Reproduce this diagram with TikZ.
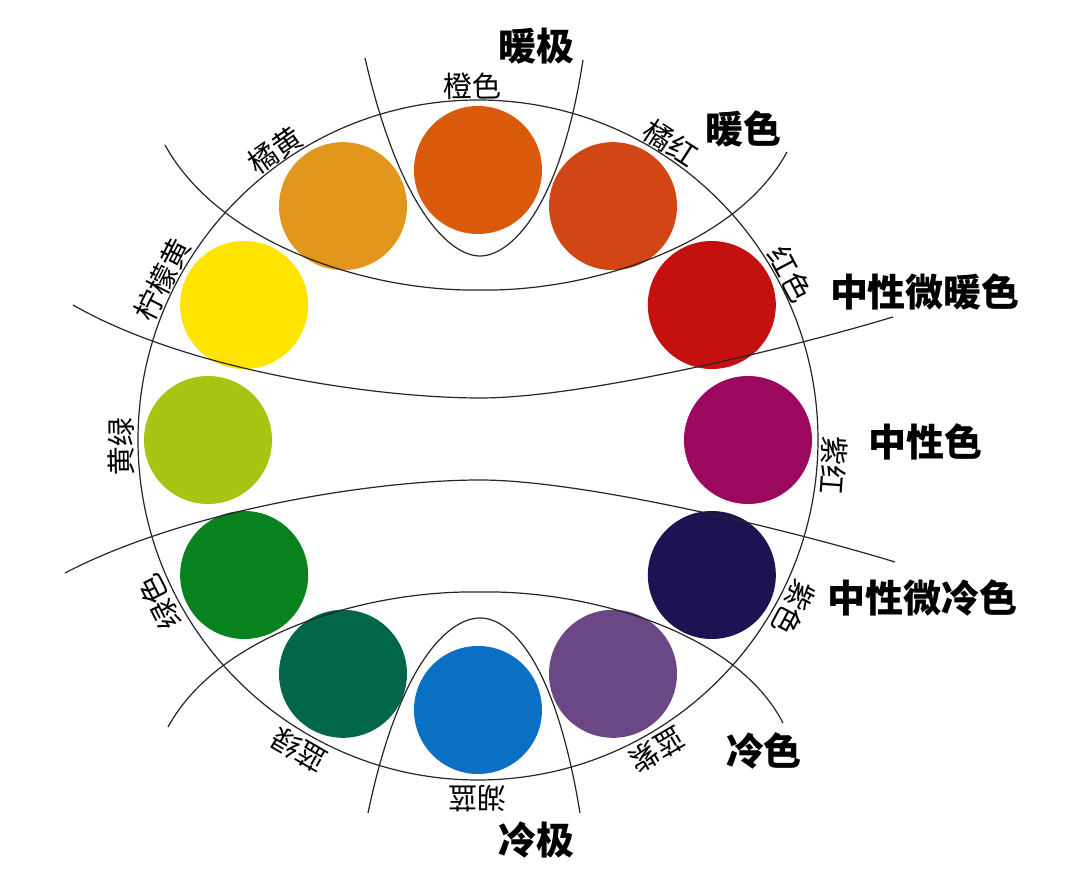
\documentclass[tikz,border=0pt]{standalone}
\usepackage{fontspec}
\setmainfont{Noto Sans CJK SC}
\definecolor{cOrange}{RGB}{217,90,10}
\definecolor{cOrRed}{RGB}{210,70,22}
\definecolor{cRed}{RGB}{196,16,14}
\definecolor{cMagenta}{RGB}{155,10,95}
\definecolor{cNavy}{RGB}{27,19,82}
\definecolor{cViolet}{RGB}{108,71,134}
\definecolor{cBlue}{RGB}{10,112,195}
\definecolor{cTeal}{RGB}{2,102,75}
\definecolor{cGreen}{RGB}{8,130,30}
\definecolor{cYGreen}{RGB}{167,196,18}
\definecolor{cLemon}{RGB}{255,228,0}
\definecolor{cOrYellow}{RGB}{227,150,28}
\tikzset{
  ln/.style={line width=1.2pt, black!85},
  dot/.style={circle, minimum size=128pt, inner sep=0pt, draw=none},
  lbl/.style={font=\fontsize{29}{29}\selectfont, inner sep=0pt},
  big/.style={font=\bfseries\fontsize{38}{38}\selectfont, inner sep=0pt}
}
\begin{document}
\begin{tikzpicture}[x=1pt,y=1pt]
\useasboundingbox[fill=white] (-478,-442) rectangle (602,440);
% outer circle
\node[circle, draw, ln, minimum size=680pt, inner sep=0pt] (outer) at (0,0) {};
% colour dots
\node[dot, fill=cOrange]   (d90)  at (90:270) {};
\node[dot, fill=cOrRed]    (d60)  at (60:270) {};
\node[dot, fill=cRed]      (d30)  at (30:270) {};
\node[dot, fill=cMagenta]  (d0)   at (0:270) {};
\node[dot, fill=cNavy]     (dm30) at (-30:270) {};
\node[dot, fill=cViolet]   (dm60) at (-60:270) {};
\node[dot, fill=cBlue]     (dm90) at (-90:270) {};
\node[dot, fill=cTeal]     (dm120) at (-120:270) {};
\node[dot, fill=cGreen]    (dm150) at (-150:270) {};
\node[dot, fill=cYGreen]   (d180) at (180:270) {};
\node[dot, fill=cLemon]    (d150) at (150:270) {};
\node[dot, fill=cOrYellow] (d120) at (120:270) {};
% curves
\draw[ln] (-113,382) .. controls (-78,230) and (-28,184) .. (2,184)
          .. controls (32,184) and (82,230) .. (105,380);
\draw[ln] (-110,-373) .. controls (-78,-220) and (-28,-178) .. (2,-178)
          .. controls (32,-178) and (77,-220) .. (102,-373);
\draw[ln] (-313,295) .. controls (-258,195) and (-108,148) .. (2,150)
          .. controls (107,148) and (257,192) .. (309,288);
\draw[ln] (-310,-287) .. controls (-258,-192) and (-108,-150) .. (2,-152)
          .. controls (107,-150) and (257,-190) .. (305,-283);
\draw[ln] (-405,135) .. controls (-288,68) and (-98,42) .. (2,42)
          .. controls (102,42) and (302,89) .. (415,123);
\draw[ln] (-413,-133) .. controls (-288,-68) and (-98,-40) .. (2,-40)
          .. controls (102,-40) and (302,-87) .. (417,-122);
% small labels
\node[lbl, rotate=1]    (l90)  at (91:354)  {橙色};
\node[lbl, rotate=-33]  (l60)  at (57:354)  {橘红};
\node[lbl, rotate=-62]  (l30)  at (28:354)  {红色};
\node[lbl, rotate=-94]  (l0)   at (-4:356)  {紫红};
\node[lbl, rotate=-118] (lm30) at (-28:358) {紫色};
\node[lbl, rotate=-150] (lm60) at (-60:358) {蓝紫};
\node[lbl, rotate=-180] (lm90) at (-90:358) {湖蓝};
\node[lbl, rotate=-210] (lm120) at (-120:358) {蓝绿};
\node[lbl, rotate=-243] (lm150) at (-153:357) {绿色};
\node[lbl, rotate=91]   (l180) at (181:357) {黄绿};
\node[lbl, rotate=63]   (l150) at (153:354) {柠檬黄};
\node[lbl, rotate=35]   (l120) at (125:354) {橘黄};
% big labels
\node[big] (wp) at (59,394) {暖极};
\node[big] (wc) at (266,311) {暖色};
\node[big] (nw) at (447,148) {中性微暖色};
\node[big] (nn) at (447,-2) {中性色};
\node[big] (nc) at (444,-158) {中性微冷色};
\node[big] (cc) at (286,-311) {冷色};
\node[big] (cp) at (59,-400) {冷极};
\end{tikzpicture}
\end{document}
